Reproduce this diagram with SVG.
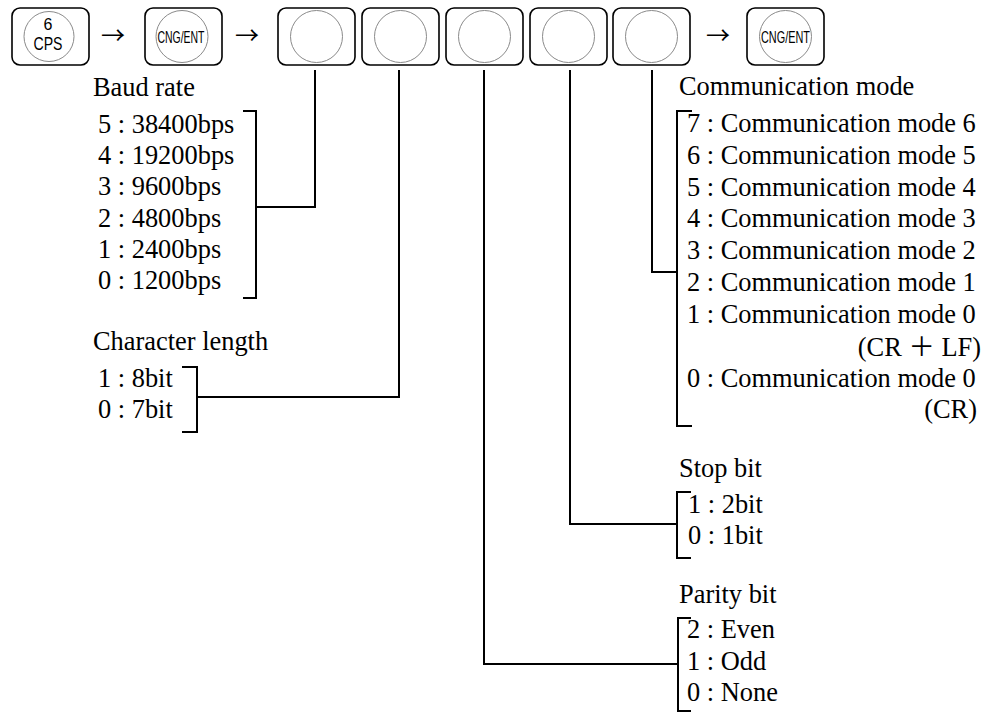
<svg xmlns="http://www.w3.org/2000/svg" width="998" height="713" viewBox="0 0 998 713">
<style>
.key{fill:#fff;stroke:#000;stroke-width:1.6}
.dial{fill:none;stroke:#8a8a8a;stroke-width:1}
.kt{font-family:"Liberation Sans",Arial,sans-serif;fill:#000;text-anchor:middle}
.t{font-family:"Liberation Serif","Noto Sans CJK JP",serif;font-size:26.4px;fill:#000}
.arr{font-family:"Noto Sans CJK JP",sans-serif;font-size:24px;fill:#000;text-anchor:middle}
.ln{fill:none;stroke:#000;stroke-width:2}
</style>
<rect width="998" height="713" fill="#fff"/>
<g id="key-cps">
<rect class="key" x="12" y="8" width="77" height="57" rx="8"/>
<circle class="dial" cx="49" cy="36.5" r="25"/>
<text class="kt" x="48" y="29.5" font-size="16">6</text>
<text class="kt" x="48" y="49.5" font-size="18" textLength="29" lengthAdjust="spacingAndGlyphs">CPS</text>
</g>
<text class="arr" x="113" y="44">→</text>
<g id="key-cng1">
<rect class="key" x="145" y="8" width="77" height="57" rx="8"/>
<circle class="dial" cx="182" cy="36.5" r="26"/>
<text class="kt" x="181" y="43" font-size="17" textLength="47" lengthAdjust="spacingAndGlyphs">CNG/ENT</text>
</g>
<text class="arr" x="247" y="44">→</text>
<g id="key-d1"><rect class="key" x="278" y="8" width="77" height="57" rx="8"/><circle class="dial" cx="316.5" cy="36.5" r="26"/></g>
<g id="key-d2"><rect class="key" x="362" y="8" width="77" height="57" rx="8"/><circle class="dial" cx="400.5" cy="36.5" r="26"/></g>
<g id="key-d3"><rect class="key" x="446" y="8" width="77" height="57" rx="8"/><circle class="dial" cx="484.5" cy="36.5" r="26"/></g>
<g id="key-d4"><rect class="key" x="530" y="8" width="77" height="57" rx="8"/><circle class="dial" cx="568.5" cy="36.5" r="26"/></g>
<g id="key-d5"><rect class="key" x="613" y="8" width="77" height="57" rx="8"/><circle class="dial" cx="651.5" cy="36.5" r="26"/></g>
<text class="arr" x="718" y="44">→</text>
<g id="key-cng2">
<rect class="key" x="747" y="8" width="77" height="57" rx="8"/>
<circle class="dial" cx="785.5" cy="36.5" r="26"/>
<text class="kt" x="785.5" y="43" font-size="17" textLength="49" lengthAdjust="spacingAndGlyphs">CNG/ENT</text>
</g>
<g id="connectors">
<path class="ln" d="M315,70 V207 H256"/>
<path class="ln" d="M399,70 V397 H197"/>
<path class="ln" d="M484,70 V664 H678"/>
<path class="ln" d="M570,70 V524 H677"/>
<path class="ln" d="M652,70 V272 H677"/>
</g>
<g id="baud">
<text class="t" x="93" y="96">Baud rate</text>
<text class="t" x="98" y="133">5 : 38400bps</text>
<text class="t" x="98" y="164">4 : 19200bps</text>
<text class="t" x="98" y="195">3 : 9600bps</text>
<text class="t" x="98" y="227">2 : 4800bps</text>
<text class="t" x="98" y="258">1 : 2400bps</text>
<text class="t" x="98" y="289">0 : 1200bps</text>
<path class="ln" d="M243,111 H256 V298 H243"/>
</g>
<g id="charlen">
<text class="t" x="93" y="350">Character length</text>
<text class="t" x="98" y="387">1 : 8bit</text>
<text class="t" x="98" y="418">0 : 7bit</text>
<path class="ln" d="M182,367 H197 V432 H182"/>
</g>
<g id="commmode">
<text class="t" x="679" y="95">Communication mode</text>
<text class="t" x="687" y="132">7 : Communication mode 6</text>
<text class="t" x="687" y="164">6 : Communication mode 5</text>
<text class="t" x="687" y="196">5 : Communication mode 4</text>
<text class="t" x="687" y="227">4 : Communication mode 3</text>
<text class="t" x="687" y="259">3 : Communication mode 2</text>
<text class="t" x="687" y="291">2 : Communication mode 1</text>
<text class="t" x="687" y="323">1 : Communication mode 0</text>
<text class="t" x="981" y="356" text-anchor="end">(CR ＋ LF)</text>
<text class="t" x="687" y="387">0 : Communication mode 0</text>
<text class="t" x="977" y="418" text-anchor="end">(CR)</text>
<path class="ln" d="M692,111 H677 V426 H692"/>
</g>
<g id="stopbit">
<text class="t" x="679" y="477">Stop bit</text>
<text class="t" x="688" y="513">1 : 2bit</text>
<text class="t" x="688" y="544">0 : 1bit</text>
<path class="ln" d="M691,492 H677 V558 H691"/>
</g>
<g id="parity">
<text class="t" x="679" y="603">Parity bit</text>
<text class="t" x="687" y="638">2 : Even</text>
<text class="t" x="687" y="670">1 : Odd</text>
<text class="t" x="687" y="701">0 : None</text>
<path class="ln" d="M691,618 H678 V711 H691"/>
</g>
</svg>
